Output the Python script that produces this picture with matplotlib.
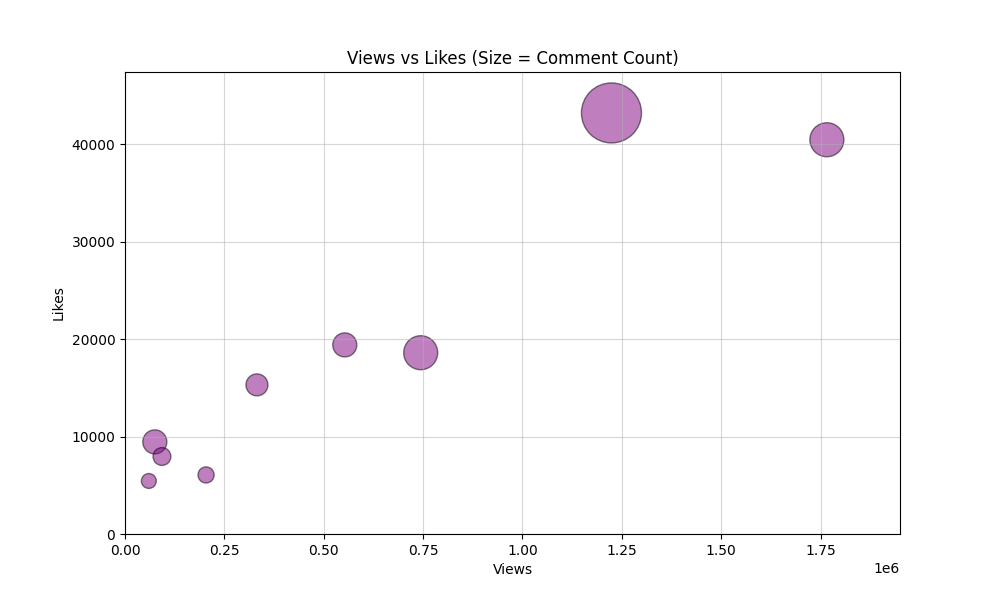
import matplotlib
matplotlib.use("Agg")
import matplotlib.pyplot as plt

views = [1224000, 1766000, 744000, 553000, 332000, 75000, 93000, 204000, 60000]
likes = [43200, 40450, 18600, 19400, 15300, 9450, 7950, 6060, 5440]
comments = [1870, 600, 600, 300, 250, 300, 165, 135, 115]

fig, ax = plt.subplots(figsize=(10, 6), dpi=100)
ax.scatter(views, likes, s=comments, c="purple", alpha=0.5, edgecolors="black")
ax.set_title("Views vs Likes (Size = Comment Count)")
ax.set_xlabel("Views")
ax.set_ylabel("Likes")
ax.set_xlim(0, 1.95e6)
ax.set_ylim(0, 47400)
ax.grid(True, alpha=0.5)
fig.savefig("out.png")
